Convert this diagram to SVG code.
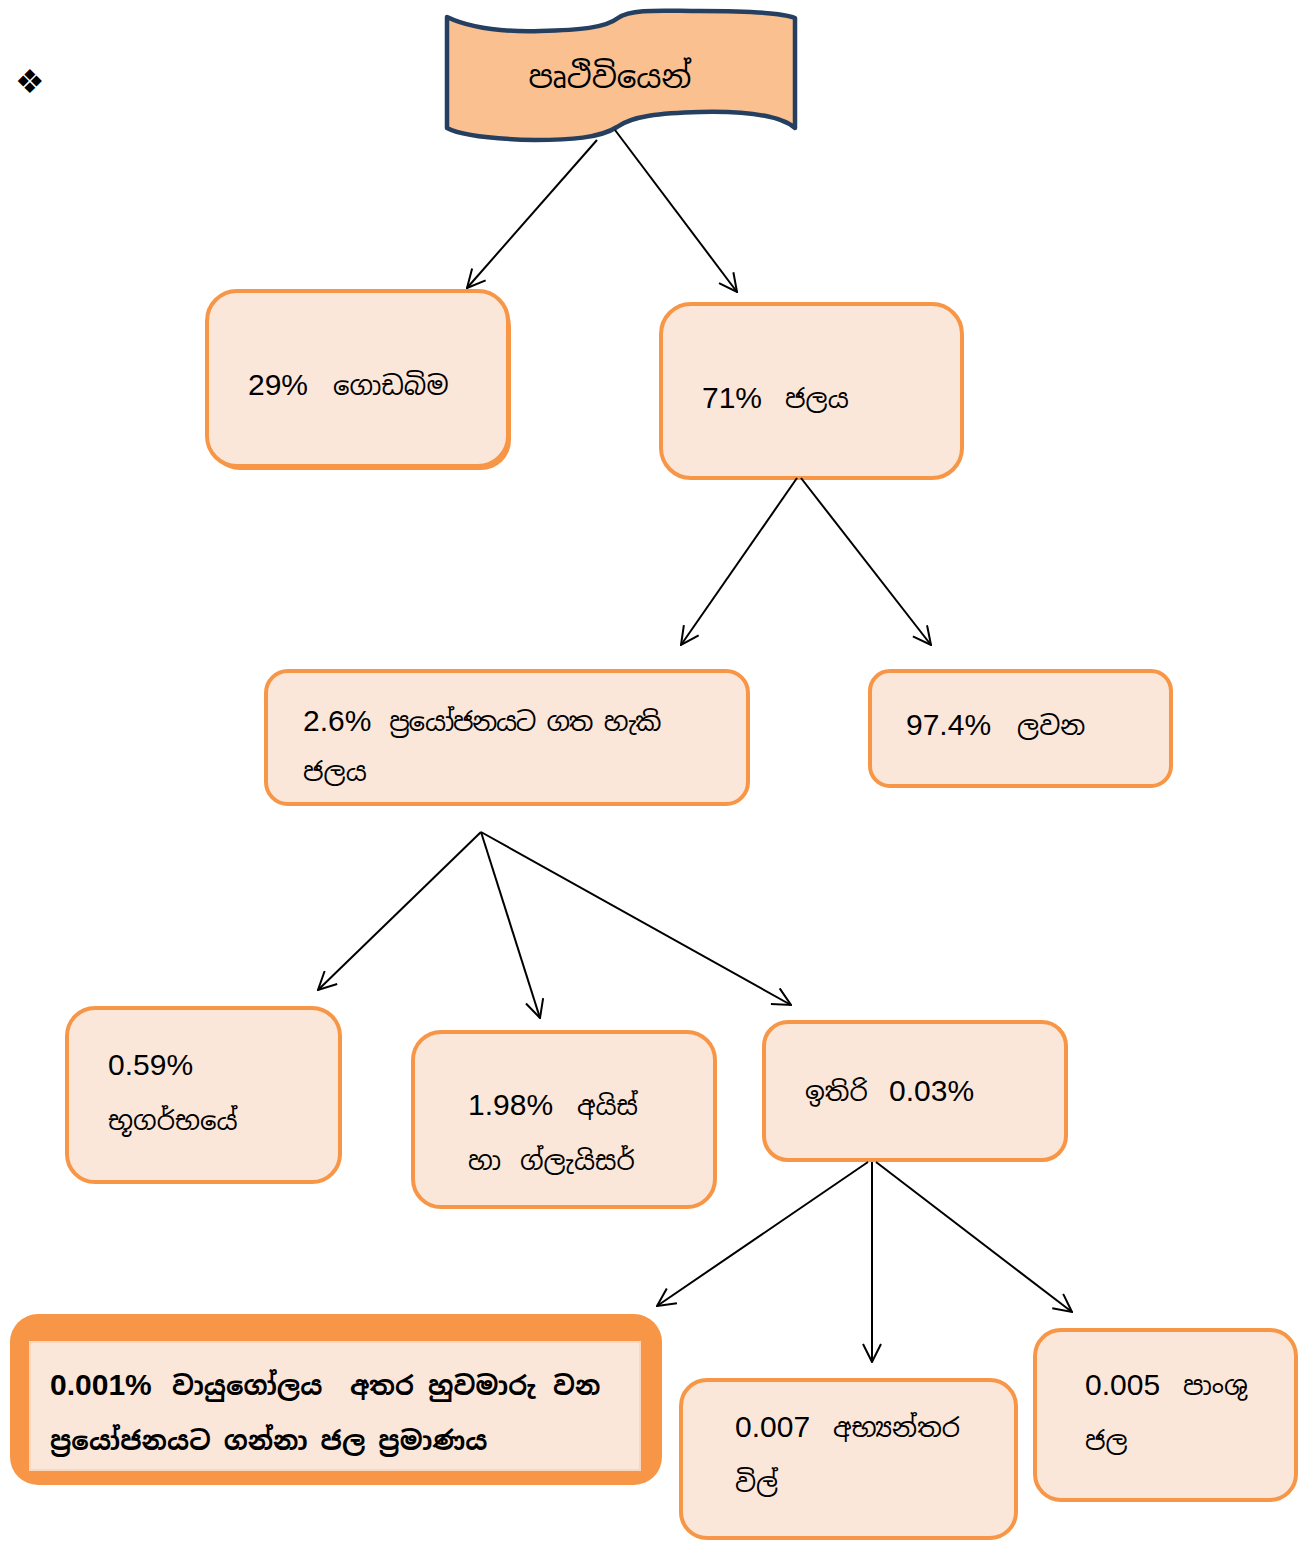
<svg xmlns="http://www.w3.org/2000/svg" width="1299" height="1542" viewBox="0 0 1299 1542">
<style>
.box{fill:#FBE7D9;stroke:#F79646;stroke-width:4}
.lat{font-family:"Liberation Sans",Arial,sans-serif;font-size:30px;fill:#000}
.sin{font-family:"Noto Sans Sinhala","Noto Serif Sinhala","Iskoola Pota","Noto Sans",sans-serif;font-size:26px;fill:#000}
.conn line{stroke:#000;stroke-width:2;marker-end:url(#arr)}
</style>
<defs>
<marker id="arr" viewBox="0 0 20 20" refX="19" refY="10" markerWidth="20" markerHeight="20" markerUnits="userSpaceOnUse" orient="auto">
<path d="M1,1 L19,10 L1,19" fill="none" stroke="#000" stroke-width="2"/>
</marker>
</defs>
<rect width="1299" height="1542" fill="#fff"/>
<text x="15" y="93" style="font-family:'DejaVu Sans',sans-serif;font-size:33px">❖</text>

<g id="n-earth">
<path d="M447,17 C470,28 505,32 540,31 C580,30 605,28 618,18 C632,8 665,11 700,11 C740,11 780,12 795,18 L795,128 C780,115 745,111 700,112 C660,113 632,116 617,127 C600,138 570,140 535,140 C495,139 462,136 447,128 Z" fill="#FAC090" stroke="#243F60" stroke-width="4.5" stroke-linejoin="round"/>
<text class="sin" x="610" y="88" text-anchor="middle" style="font-size:31px">පෘථිවියෙන්</text>
</g>

<g id="n-land">
<rect x="210" y="296" width="301" height="174" rx="30" fill="#F79646"/>
<rect class="box" x="207" y="291" width="301" height="175" rx="30"/>
<text class="lat" x="248" y="395">29%</text>
<text class="sin" x="333" y="395">ගොඩබිම</text>
</g>

<g id="n-water">
<rect class="box" x="661" y="304" width="301" height="174" rx="30"/>
<text class="lat" x="702" y="408">71%</text>
<text class="sin" x="785" y="408">ජලය</text>
</g>

<g id="n-usable">
<rect class="box" x="266" y="671" width="482" height="133" rx="22"/>
<text class="lat" x="303" y="731">2.6%</text>
<text class="sin" x="388" y="731" textLength="272" lengthAdjust="spacing">ප්‍රයෝජනයට ගත හැකි</text>
<text class="sin" x="303" y="781">ජලය</text>
</g>

<g id="n-salt">
<rect class="box" x="870" y="671" width="301" height="115" rx="20"/>
<text class="lat" x="906" y="735">97.4%</text>
<text class="sin" x="1017" y="735">ලවන</text>
</g>

<g id="n-ground">
<rect class="box" x="67" y="1008" width="273" height="174" rx="28"/>
<text class="lat" x="108" y="1075">0.59%</text>
<text class="sin" x="108" y="1130">භූගර්භයේ</text>
</g>

<g id="n-ice">
<rect class="box" x="413" y="1032" width="302" height="175" rx="28"/>
<text class="lat" x="468" y="1115">1.98%</text>
<text class="sin" x="577" y="1115">අයිස්</text>
<text class="sin" x="468" y="1170">හා</text>
<text class="sin" x="520" y="1170">ග්ලැයිසර්</text>
</g>

<g id="n-rest">
<rect class="box" x="764" y="1022" width="302" height="138" rx="24"/>
<text class="sin" x="805" y="1101">ඉතිරි</text>
<text class="lat" x="889" y="1101">0.03%</text>
</g>

<g id="n-atmos">
<rect x="10" y="1314" width="652" height="171" rx="28" fill="#F79646"/>
<rect x="30" y="1342" width="610" height="128" fill="#FBE7D9" stroke="#FAD7BD" stroke-width="2"/>
<text class="lat" x="50" y="1395" font-weight="bold">0.001%</text>
<text class="sin" x="172" y="1395" font-weight="bold">වායුගෝලය</text>
<text class="sin" x="350" y="1395" font-weight="bold">අතර</text>
<text class="sin" x="428" y="1395" font-weight="bold">හුවමාරු</text>
<text class="sin" x="553" y="1395" font-weight="bold">වන</text>
<text class="sin" x="50" y="1450" font-weight="bold">ප්‍රයෝජනයට ගන්නා ජල ප්‍රමාණය</text>
</g>

<g id="n-lakes">
<rect class="box" x="681" y="1380" width="335" height="158" rx="26"/>
<text class="lat" x="735" y="1437">0.007</text>
<text class="sin" x="833" y="1437">අභ්‍යන්තර</text>
<text class="sin" x="735" y="1492">විල්</text>
</g>

<g id="n-soil">
<rect class="box" x="1035" y="1330" width="261" height="170" rx="26"/>
<text class="lat" x="1085" y="1395">0.005</text>
<text class="sin" x="1183" y="1395">පාංශු</text>
<text class="sin" x="1085" y="1450">ජල</text>
</g>

<g id="connectors" class="conn">
<line x1="597" y1="140" x2="467" y2="288"/>
<line x1="615" y1="130" x2="737" y2="292"/>
<line x1="797" y1="478" x2="681" y2="645"/>
<line x1="801" y1="478" x2="931" y2="645"/>
<line x1="481" y1="832" x2="318" y2="990"/>
<line x1="481" y1="832" x2="540" y2="1018"/>
<line x1="481" y1="832" x2="791" y2="1005"/>
<line x1="868" y1="1162" x2="657" y2="1306"/>
<line x1="872" y1="1162" x2="872" y2="1362"/>
<line x1="876" y1="1162" x2="1072" y2="1312"/>
</g>
</svg>
